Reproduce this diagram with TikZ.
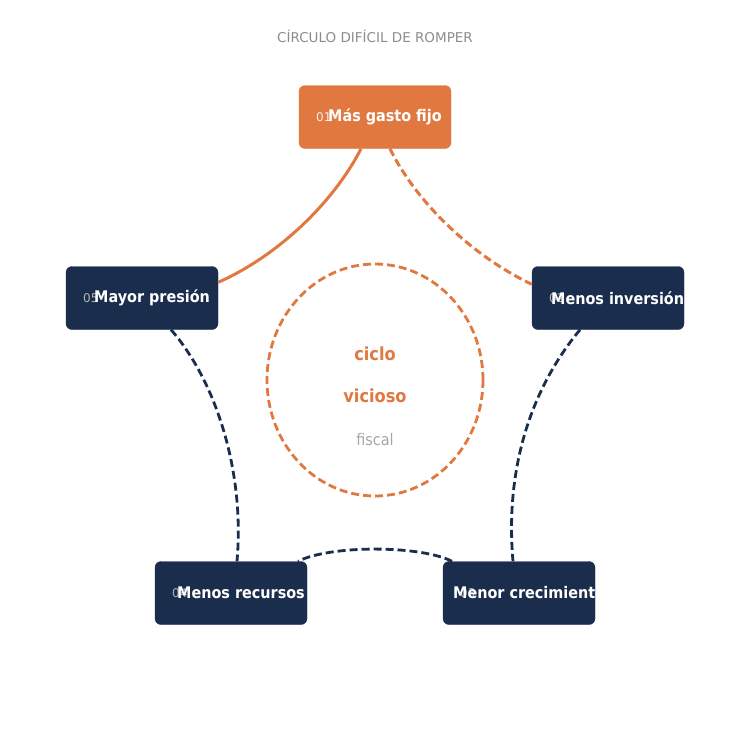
\documentclass[tikz,border=0pt]{standalone}
\usepackage{fontspec}
\setmainfont{DejaVu Sans}
\newfontfamily\cond{DejaVu Sans Condensed}
\usetikzlibrary{shapes.geometric}
\definecolor{org}{HTML}{E07840}
\definecolor{nav}{HTML}{1B2D4C}
\begin{document}
\begin{tikzpicture}[x=1pt,y=-1pt,
 box/.style={draw=#1,fill=#1,rounded corners=6pt,minimum width=152pt,minimum height=63pt},
 num/.style={font=\fontsize{12}{12}\selectfont,text=#1,anchor=west,inner sep=0},
 lab/.style={font=\cond\fontsize{16}{16}\selectfont\bfseries,text=white,anchor=west,inner sep=0},
 od/.style={org,line width=3pt,dash pattern=on 8pt off 4pt},
 nd/.style={nav,line width=2.8pt,dash pattern=on 8pt off 4pt}]
\useasboundingbox (0,0) rectangle (750,750);
\node[font=\fontsize{13.5}{14}\selectfont,text=gray!90] (t) at (375,36) {CÍRCULO DIFÍCIL DE ROMPER};
\node[box=org] (b1) at (375,117) {};
\node[box=nav] (b2) at (608,298) {};
\node[box=nav] (b3) at (519,593) {};
\node[box=nav] (b4) at (231,593) {};
\node[box=nav] (b5) at (142,298) {};
\node[num=white!85!org] (n1) at (316,117) {01};
\node[lab] (l1) at (328,117) {Más gasto fijo};
\node[num=gray!60] (n2) at (549,298) {02};
\node[lab] (l2) at (551,298) {Menos inversión};
\node[num=gray!60] (n3) at (460,593) {03};
\begin{scope}
\clip (443,560) rectangle (595,627);
\node[lab] (l3) at (453,593) {Menor crecimiento};
\end{scope}
\node[num=gray!60] (n4) at (172,593) {04};
\node[lab] (l4) at (177,593) {Menos recursos};
\node[num=gray!60] (n5) at (83,298) {05};
\node[lab] (l5) at (94,298) {Mayor presión};
\node[draw=org,line width=2.8pt,dash pattern=on 8pt off 4pt,ellipse,minimum width=216pt,minimum height=232pt] (e) at (375,380) {};
\node[text=org,font=\cond\fontsize{18}{18}\selectfont\bfseries] (c1) at (375,354) {ciclo};
\node[text=org,font=\cond\fontsize{18}{18}\selectfont\bfseries] (c2) at (375,396) {vicioso};
\node[text=gray!70,font=\cond\fontsize{16}{16}\selectfont] (c3) at (375,440) {fiscal};
\draw[od] ([xshift=15pt]b1.south) .. controls (415,200) and (470,255) .. ([yshift=-18pt]b2.north west);
\draw[org,line width=3pt] ([yshift=-16pt]b5.north east) .. controls (280,255) and (335,200) .. ([xshift=-14pt]b1.south);
\draw[nd] ([xshift=-28pt]b2.south) .. controls (530,390) and (505,470) .. ([xshift=-6pt]b3.north);
\draw[nd] ([xshift=-67pt]b3.north) .. controls (420,545) and (330,545) .. ([xshift=67pt]b4.north);
\draw[nd] ([xshift=29pt]b5.south) .. controls (215,380) and (245,470) .. ([xshift=6pt]b4.north);
\end{tikzpicture}
\end{document}
